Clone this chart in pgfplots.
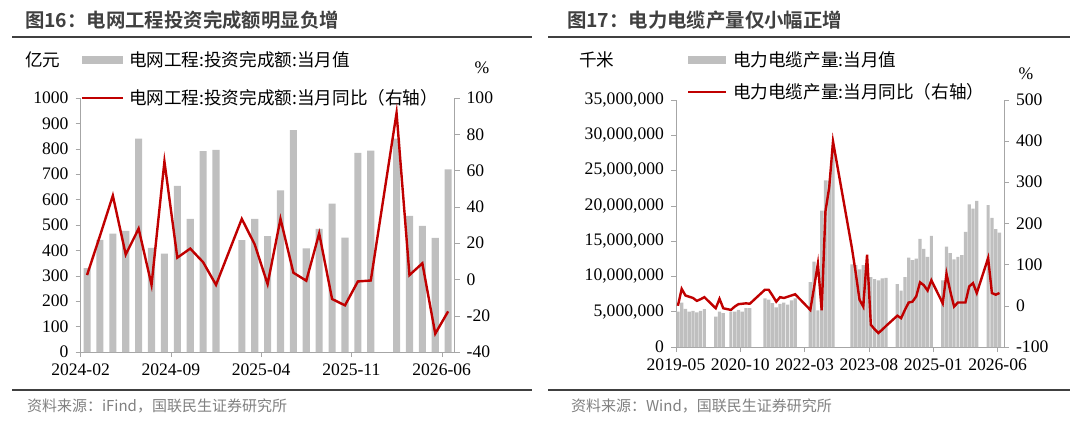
\documentclass[border=0pt]{standalone}
\usepackage{pgfplots}
\pgfplotsset{compat=1.18}
\usepackage{fontspec}
\setmainfont{Liberation Serif}
\newfontfamily\cjk{Noto Sans CJK SC}
\newfontfamily\cjkb{Noto Sans CJK SC Bold}
\definecolor{barg}{HTML}{BFBFBF}
\definecolor{lred}{HTML}{C00000}
\definecolor{axg}{HTML}{A6A6A6}
\definecolor{tg}{HTML}{404040}
\pgfplotsset{
  base/.style={scale only axis, font=\fontsize{8.8}{10}\selectfont,
    /pgf/number format/assume math mode=true,
    axis line style={draw=axg}, tick style={draw=axg, major tick length=2.5pt},
    tick align=outside, ticklabel style={text=black}, clip=false},
}
\begin{document}
\begin{tikzpicture}
\path[use as bounding box] (0,0) rectangle (540pt,-214.5pt);
% titles and rules
\node[anchor=west, text=tg, font=\cjkb\fontsize{9.7}{11}\selectfont] at (9pt,-10pt) {图16：电网工程投资完成额明显负增};
\node[anchor=west, text=tg, font=\cjkb\fontsize{9.7}{11}\selectfont] at (280pt,-10pt) {图17：电力电缆产量仅小幅正增};
\draw[tg, line width=0.6pt] (6pt,-18.5pt) -- (266pt,-18.5pt);
\draw[tg, line width=0.6pt] (274pt,-18.5pt) -- (535pt,-18.5pt);
\draw[tg, line width=0.6pt] (6pt,-195pt) -- (266pt,-195pt);
\draw[tg, line width=0.6pt] (274pt,-195pt) -- (535pt,-195pt);
\node[anchor=west, text=gray, font=\cjk\fontsize{7.5}{8}\selectfont] at (10pt,-203pt) {资料来源：iFind，国联民生证券研究所};
\node[anchor=west, text=gray, font=\cjk\fontsize{7.5}{8}\selectfont] at (282pt,-203pt) {资料来源：Wind，国联民生证券研究所};
% left legend
\node[anchor=west, font=\cjk\fontsize{8.8}{10}\selectfont] at (9pt,-30pt) {亿元};
\fill[barg] (41pt,-28pt) rectangle (61.5pt,-32pt);
\node[anchor=west, font=\cjk\fontsize{8.8}{10}\selectfont] at (61pt,-30pt) {电网工程:投资完成额:当月值};
\draw[lred, line width=1.2pt] (41pt,-49pt) -- (61.5pt,-49pt);
\node[anchor=west, font=\cjk\fontsize{8.8}{10}\selectfont] at (61pt,-49pt) {电网工程:投资完成额:当月同比（右轴）};
\node[font=\fontsize{8.8}{10}\selectfont] at (241pt,-34pt) {\%};
% right legend
\node[anchor=west, font=\cjk\fontsize{8.8}{10}\selectfont] at (286pt,-30pt) {千米};
\fill[barg] (344pt,-28pt) rectangle (363pt,-32pt);
\node[anchor=west, font=\cjk\fontsize{8.8}{10}\selectfont] at (363pt,-30pt) {电力电缆产量:当月值};
\draw[lred, line width=1.2pt] (344pt,-46pt) -- (363pt,-46pt);
\node[anchor=west, font=\cjk\fontsize{8.8}{10}\selectfont] at (363pt,-46pt) {电力电缆产量:当月同比（右轴）};
\node[font=\fontsize{8.8}{10}\selectfont] at (513pt,-37pt) {\%};

% ---------- left chart ----------
\begin{axis}[base, at={(40.3pt,-176pt)}, anchor=south west, width=187pt, height=127pt,
  xmin=0, xmax=29, ymin=0, ymax=1000, ytick={0,100,...,1000},
  axis x line*=bottom, axis y line*=left,
  xtick={0,7,14,21,28}, xticklabels={2024-02,2024-09,2025-04,2025-11,2026-06},
  /pgf/number format/1000 sep={}]
\addplot[ybar, bar width=0.55, fill=barg, draw=none] coordinates {
(0.5,330)(1.5,441)(2.5,466)(3.5,477)(4.5,840)(5.5,410)(6.5,387)(7.5,654)(8.5,524)(9.5,791)(10.5,796)
(12.5,440)(13.5,524)(14.5,456)(15.5,636)(16.5,874)(17.5,408)(18.5,485)(19.5,584)(20.5,450)(21.5,784)(22.5,793)
(24.5,840)(25.5,536)(26.5,497)(27.5,449)(28.5,719)};
\end{axis}
\begin{axis}[base, at={(40.3pt,-176pt)}, anchor=south west, width=187pt, height=127pt,
  xmin=0, xmax=29, ymin=-40, ymax=100, ytick={-40,-20,...,100},
  axis y line*=right, axis x line=none]
\addplot[lred, line width=1.2pt, mark=none] coordinates {
(0.5,2.4)(1.5,24)(2.5,46.2)(3.5,13.7)(4.5,28)(5.5,-3)(6.5,65)(7.5,12)(8.5,17)(9.5,9.5)(10.5,-3)
(12.5,33.4)(13.5,19.3)(14.5,-2.6)(15.5,33.4)(16.5,3.7)(17.5,-0.7)(18.5,25.4)(19.5,-10.8)(20.5,-14.3)(21.5,-1.1)(22.5,-0.6)
(24.5,91.8)(25.5,2.4)(26.5,8.9)(27.5,-29.9)(28.5,-17.6)};
\end{axis}

% ---------- right chart ----------
\begin{axis}[base, at={(338pt,-173.5pt)}, anchor=south west, width=164pt, height=123.6pt,
  xmin=0, xmax=86.7, ymin=0, ymax=35, ytick={0,5,...,35},
  yticklabels={0,{5,000,000},{10,000,000},{15,000,000},{20,000,000},{25,000,000},{30,000,000},{35,000,000}},
  axis x line*=bottom, axis y line*=left,
  xtick={0,17,34,51,68,85}, xticklabels={2019-05,2020-10,2022-03,2023-08,2025-01,2026-06}]
\addplot[ybar, bar width=0.85, fill=barg, draw=none] coordinates {
(0.5,5.0)(1.5,6.3)(2.5,5.4)(3.5,5.0)(4.5,5.1)(5.5,4.9)(6.5,5.1)(7.5,5.35)
(10.5,4.3)(11.5,5.0)(12.5,4.8)
(14.5,5.0)(15.5,5.0)(16.5,5.25)(17.5,5.0)(18.5,5.5)(19.5,5.5)
(23.5,6.9)(24.5,6.7)(25.5,6.2)(26.5,5.6)(27.5,6.1)(28.5,6.3)(29.5,6.0)(30.5,6.6)(31.5,6.9)
(35.5,9.2)(36.5,12.1)(37.5,5.2)(38.5,19.3)(39.5,23.6)(40.5,23.6)(41.5,28.5)
(46.5,11.7)(47.5,11.6)(48.5,11.0)(49.5,11.6)(50.5,10.4)(51.5,9.9)(52.5,9.6)(53.5,9.45)(54.5,9.7)(55.5,9.8)
(58.5,8.9)(59.5,8.0)(60.5,9.9)(61.5,12.65)(62.5,12.3)(63.5,12.5)(64.5,15.3)(65.5,13.9)(66.5,12.75)(67.5,15.75)
(70.5,9.45)(71.5,14.2)(72.5,13.3)(73.5,12.4)(74.5,12.75)(75.5,13.0)(76.5,16.3)(77.5,20.2)(78.5,19.6)(79.5,20.7)
(82.5,20.1)(83.5,18.3)(84.5,16.7)(85.5,16.2)};
\end{axis}
\begin{axis}[base, at={(338pt,-173.5pt)}, anchor=south west, width=164pt, height=123.6pt,
  xmin=0, xmax=86.7, ymin=-100, ymax=500, ytick={-100,0,...,500},
  axis y line*=right, axis x line=none]
\addplot[lred, line width=1.2pt, mark=none] coordinates {
(0.5,0)(1.5,41)(2.5,25)(3.5,22)(4.5,19)(5.5,12)(6.5,16)(7.5,21)
(10.5,-6)(11.5,17)(12.5,-6)(13.5,-8)(14.5,-10)(15.5,-2)(16.5,4)(17.5,5)(18.5,6)(19.5,5)
(23.5,39)(24.5,39)(25.5,25)(26.5,10)(27.5,21)(28.5,19)(29.5,22)(30.5,25)(31.5,28)
(35.5,-10)(36.5,45)(37.5,102)(38.5,-11)(39.5,229)(40.5,288)(41.5,399)
(46.5,140)(47.5,80)(48.5,15)(49.5,-2)(50.5,124)(51.5,-46)(52.5,-57)(53.5,-66)(54.5,-58)(55.5,-49)
(58.5,-24)(59.5,-30)(60.5,-10)(61.5,8)(62.5,10)(63.5,23)(64.5,57)(65.5,50)(66.5,37)(67.5,62)
(70.5,6)(71.5,78)(72.5,35)(73.5,-2)(74.5,8)(75.5,8)(76.5,8)(77.5,47)(78.5,55)(79.5,31)
(82.5,116)(83.5,31)(84.5,27)(85.5,31)};
\end{axis}
\end{tikzpicture}
\end{document}
